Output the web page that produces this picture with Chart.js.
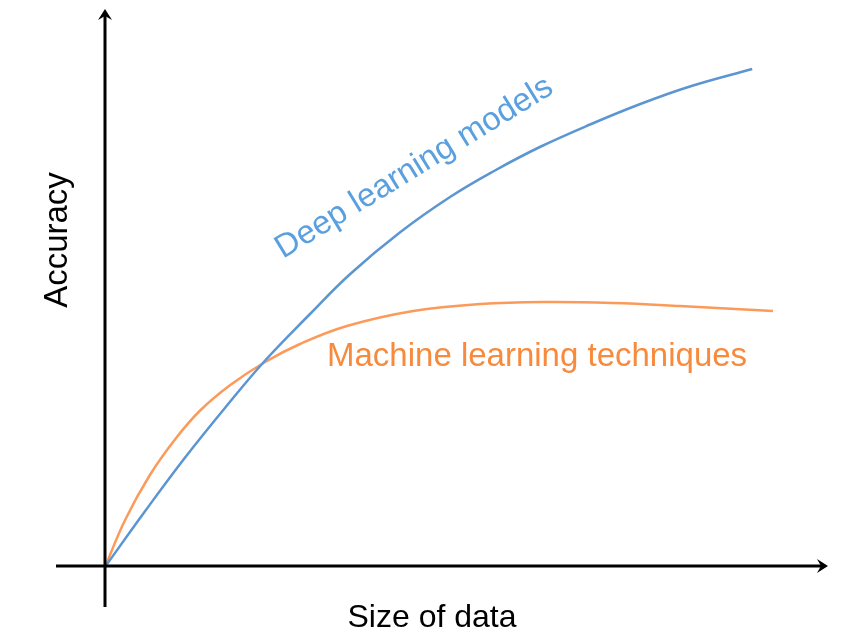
<!DOCTYPE html>
<html>
<head>
<meta charset="utf-8">
<script src="https://cdn.jsdelivr.net/npm/chart.js@4/dist/chart.umd.min.js"></script>
<style>
  html, body { margin: 0; padding: 0; background: #ffffff; }
  #wrap { width: 850px; height: 639px; }
</style>
</head>
<body>
<div id="wrap"><canvas id="c" width="850" height="639"></canvas></div>
<script>
// Size of data (x) and accuracy (y), in arbitrary units 0-100
const deepX = [0, 6.0, 11.9, 17.9, 23.9, 30.6, 36.6, 44.0, 51.5, 58.2, 64.9, 72.4, 79.9, 87.3, 96.6];
const deepY = [0, 11.2, 21.8, 31.8, 41.3, 50.6, 58.6, 66.9, 74.0, 79.3, 84.0, 88.5, 92.6, 96.1, 99.6];
const mlX = [0, 3.0, 6.7, 10.5, 14.2, 18.7, 23.9, 29.1, 36.1, 46.0, 56.0, 66.0, 75.8, 85.8, 99.7];
const mlY = [0, 9.4, 18.4, 25.6, 31.3, 36.4, 41.0, 44.6, 48.2, 51.2, 52.6, 53.0, 52.8, 52.2, 51.2];

const seriesNames = ["Deep learning models", "Machine learning techniques"];
const axisTitles = { x: "Size of data", y: "Accuracy" };

const toPts = (xs, ys) => xs.map((x, i) => ({ x: x, y: ys[i] }));

const axesPlugin = {
  id: 'axesArrows',
  afterDatasetsDraw(chart) {
    const ctx = chart.ctx;
    const xs = chart.scales.x, ys = chart.scales.y;
    const ox = xs.getPixelForValue(0), oy = ys.getPixelForValue(0);
    ctx.save();
    ctx.strokeStyle = '#000'; ctx.fillStyle = '#000';
    ctx.lineWidth = 3; ctx.lineCap = 'butt';
    // y axis
    ctx.beginPath(); ctx.moveTo(ox, oy + 40); ctx.lineTo(ox, 15); ctx.stroke();
    // x axis
    ctx.beginPath(); ctx.moveTo(ox - 49, oy - 1); ctx.lineTo(821, oy - 1); ctx.stroke();
    // arrow heads
    ctx.beginPath();
    ctx.moveTo(ox, 9); ctx.lineTo(ox + 7, 20); ctx.lineTo(ox, 16); ctx.lineTo(ox - 7, 20); ctx.closePath(); ctx.fill();
    const ay = oy - 1;
    ctx.beginPath();
    ctx.moveTo(828, ay); ctx.lineTo(817, ay - 7); ctx.lineTo(821, ay); ctx.lineTo(817, ay + 7); ctx.closePath(); ctx.fill();

    // axis titles
    ctx.font = '32px "Liberation Sans", Arial, sans-serif';
    ctx.textAlign = 'center'; ctx.textBaseline = 'alphabetic';
    ctx.fillText(axisTitles.x, 432, 627);
    ctx.save();
    ctx.translate(67, 240); ctx.rotate(-Math.PI / 2);
    ctx.font = '33px "Liberation Sans", Arial, sans-serif';
    ctx.fillText(axisTitles.y, 0, 0);
    ctx.restore();

    // series labels
    ctx.textAlign = 'left';
    ctx.fillStyle = '#5aa0df';
    ctx.save();
    ctx.translate(283, 259); ctx.rotate(-31.5 * Math.PI / 180);
    ctx.font = '32.8px "Liberation Sans", Arial, sans-serif';
    ctx.fillText(seriesNames[0], 0, 0);
    ctx.restore();
    ctx.fillStyle = '#f78a3c';
    ctx.font = '33px "Liberation Sans", Arial, sans-serif';
    ctx.fillText(seriesNames[1], 327, 366);
    ctx.restore();
  }
};

new Chart(document.getElementById('c'), {
  type: 'line',
  data: {
    datasets: [
      { label: seriesNames[0], data: toPts(deepX, deepY), borderColor: '#5b95d2', borderWidth: 2.5,
        pointRadius: 0, tension: 0.4, clip: false, fill: false },
      { label: seriesNames[1], data: toPts(mlX, mlY), borderColor: '#fb9a5a', borderWidth: 2.5,
        pointRadius: 0, tension: 0.4, clip: false, fill: false }
    ]
  },
  options: {
    responsive: false,
    animation: false,
    layout: { padding: { left: 105, right: 75, top: 67, bottom: 72 } },
    plugins: { legend: { display: false }, tooltip: { enabled: false } },
    scales: {
      x: { type: 'linear', min: 0, max: 100, display: false },
      y: { type: 'linear', min: 0, max: 100, display: false }
    }
  },
  plugins: [axesPlugin]
});
</script>
</body>
</html>
